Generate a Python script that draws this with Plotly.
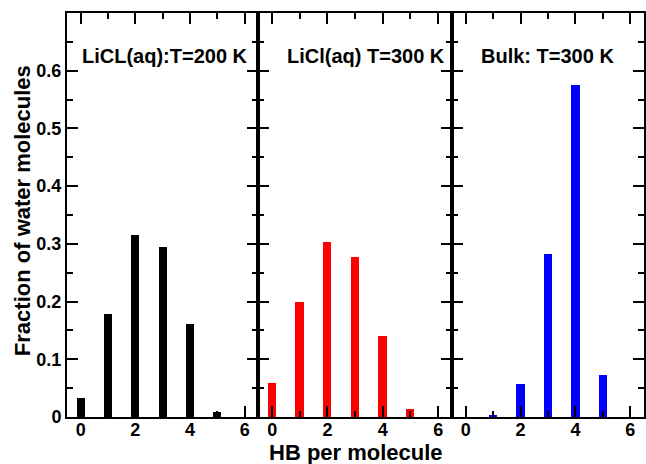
import plotly.graph_objects as go

hb = [0, 1, 2, 3, 4, 5, 6]
licl_200 = [0.033, 0.179, 0.316, 0.295, 0.162, 0.009, 0.0]
licl_300 = [0.059, 0.200, 0.303, 0.278, 0.140, 0.014, 0.0]
bulk_300 = [0.0, 0.004, 0.058, 0.283, 0.576, 0.073, 0.0]

series = [licl_200, licl_300, bulk_300]
colors = ["#000000", "#ff0000", "#0000ff"]
labels = ["LiCL(aq):T=200 K", "LiCl(aq) T=300 K", "Bulk: T=300 K"]
ytickvals = [0, 0.1, 0.2, 0.3, 0.4, 0.5, 0.6]
yticktext = ["0", "0.1", "0.2", "0.3", "0.4", "0.5", "0.6"]

FONT = "Liberation Sans, Arial, sans-serif"

fig = go.Figure()
domains = [[0.0, 0.3316], [0.3316, 0.6672], [0.6672, 1.0]]
label_x = [3.1, 3.4, 3.0]

for i, (vals, col) in enumerate(zip(series, colors)):
    xa = "x" if i == 0 else f"x{i+1}"
    ya = "y" if i == 0 else f"y{i+1}"
    fig.add_trace(go.Bar(x=hb, y=vals, width=0.3, marker=dict(color=col, line=dict(width=0)),
                         xaxis=xa, yaxis=ya, showlegend=False))
    axkey = "xaxis" if i == 0 else f"xaxis{i+1}"
    aykey = "yaxis" if i == 0 else f"yaxis{i+1}"
    fig.layout[axkey] = dict(
        domain=domains[i], range=[-0.5, 6.5], anchor=ya,
        tickmode="array", tickvals=[0, 2, 4, 6], ticktext=["0", "2", "4", "6"],
        ticks="inside", ticklen=11, tickwidth=1.5, tickcolor="black",
        minor=dict(tickmode="array", tickvals=[1, 3, 5], ticks="inside", ticklen=6, tickwidth=1.5, tickcolor="black"),
        showline=True, linewidth=2, linecolor="black", mirror="allticks",
        showgrid=False, zeroline=False,
        tickfont=dict(family=FONT, size=18, color="black", weight="bold"),
        ticklabelstandoff=-5,
        fixedrange=True,
    )
    fig.layout[aykey] = dict(
        domain=[0, 1], range=[0, 0.7], anchor=xa,
        tickmode="array", tickvals=ytickvals, ticktext=yticktext,
        ticks="inside", ticklen=11, tickwidth=1.5, tickcolor="black",
        minor=dict(tickmode="array", tickvals=[0.05, 0.15, 0.25, 0.35, 0.45, 0.55, 0.65],
                   ticks="inside", ticklen=6, tickwidth=1.5, tickcolor="black"),
        showline=True, linewidth=2, linecolor="black", mirror="allticks",
        showgrid=False, zeroline=False, showticklabels=(i == 0),
        tickfont=dict(family=FONT, size=18, color="black", weight="bold"),
        fixedrange=True,
    )
    fig.add_annotation(x=label_x[i], y=0.625, xref=xa, yref=ya, text=labels[i], showarrow=False,
                       font=dict(family=FONT, size=20, color="black", weight="bold"),
                       xanchor="center", yanchor="middle")

fig.add_annotation(x=0.5, y=-0.087, xref="paper", yref="paper", text="HB per molecule", showarrow=False,
                   font=dict(family=FONT, size=22, color="black", weight="bold"),
                   xanchor="center", yanchor="middle")
fig.add_annotation(x=-0.078, y=0.512, xref="paper", yref="paper", text="Fraction of water molecules",
                   showarrow=False, textangle=-90,
                   font=dict(family=FONT, size=22, color="black", weight="bold"),
                   xanchor="center", yanchor="middle")

fig.update_layout(
    width=646, height=464,
    margin=dict(l=67, r=0, t=13, b=47),
    paper_bgcolor="white", plot_bgcolor="white",
    bargap=0,
)

fig.write_html("out.html")
